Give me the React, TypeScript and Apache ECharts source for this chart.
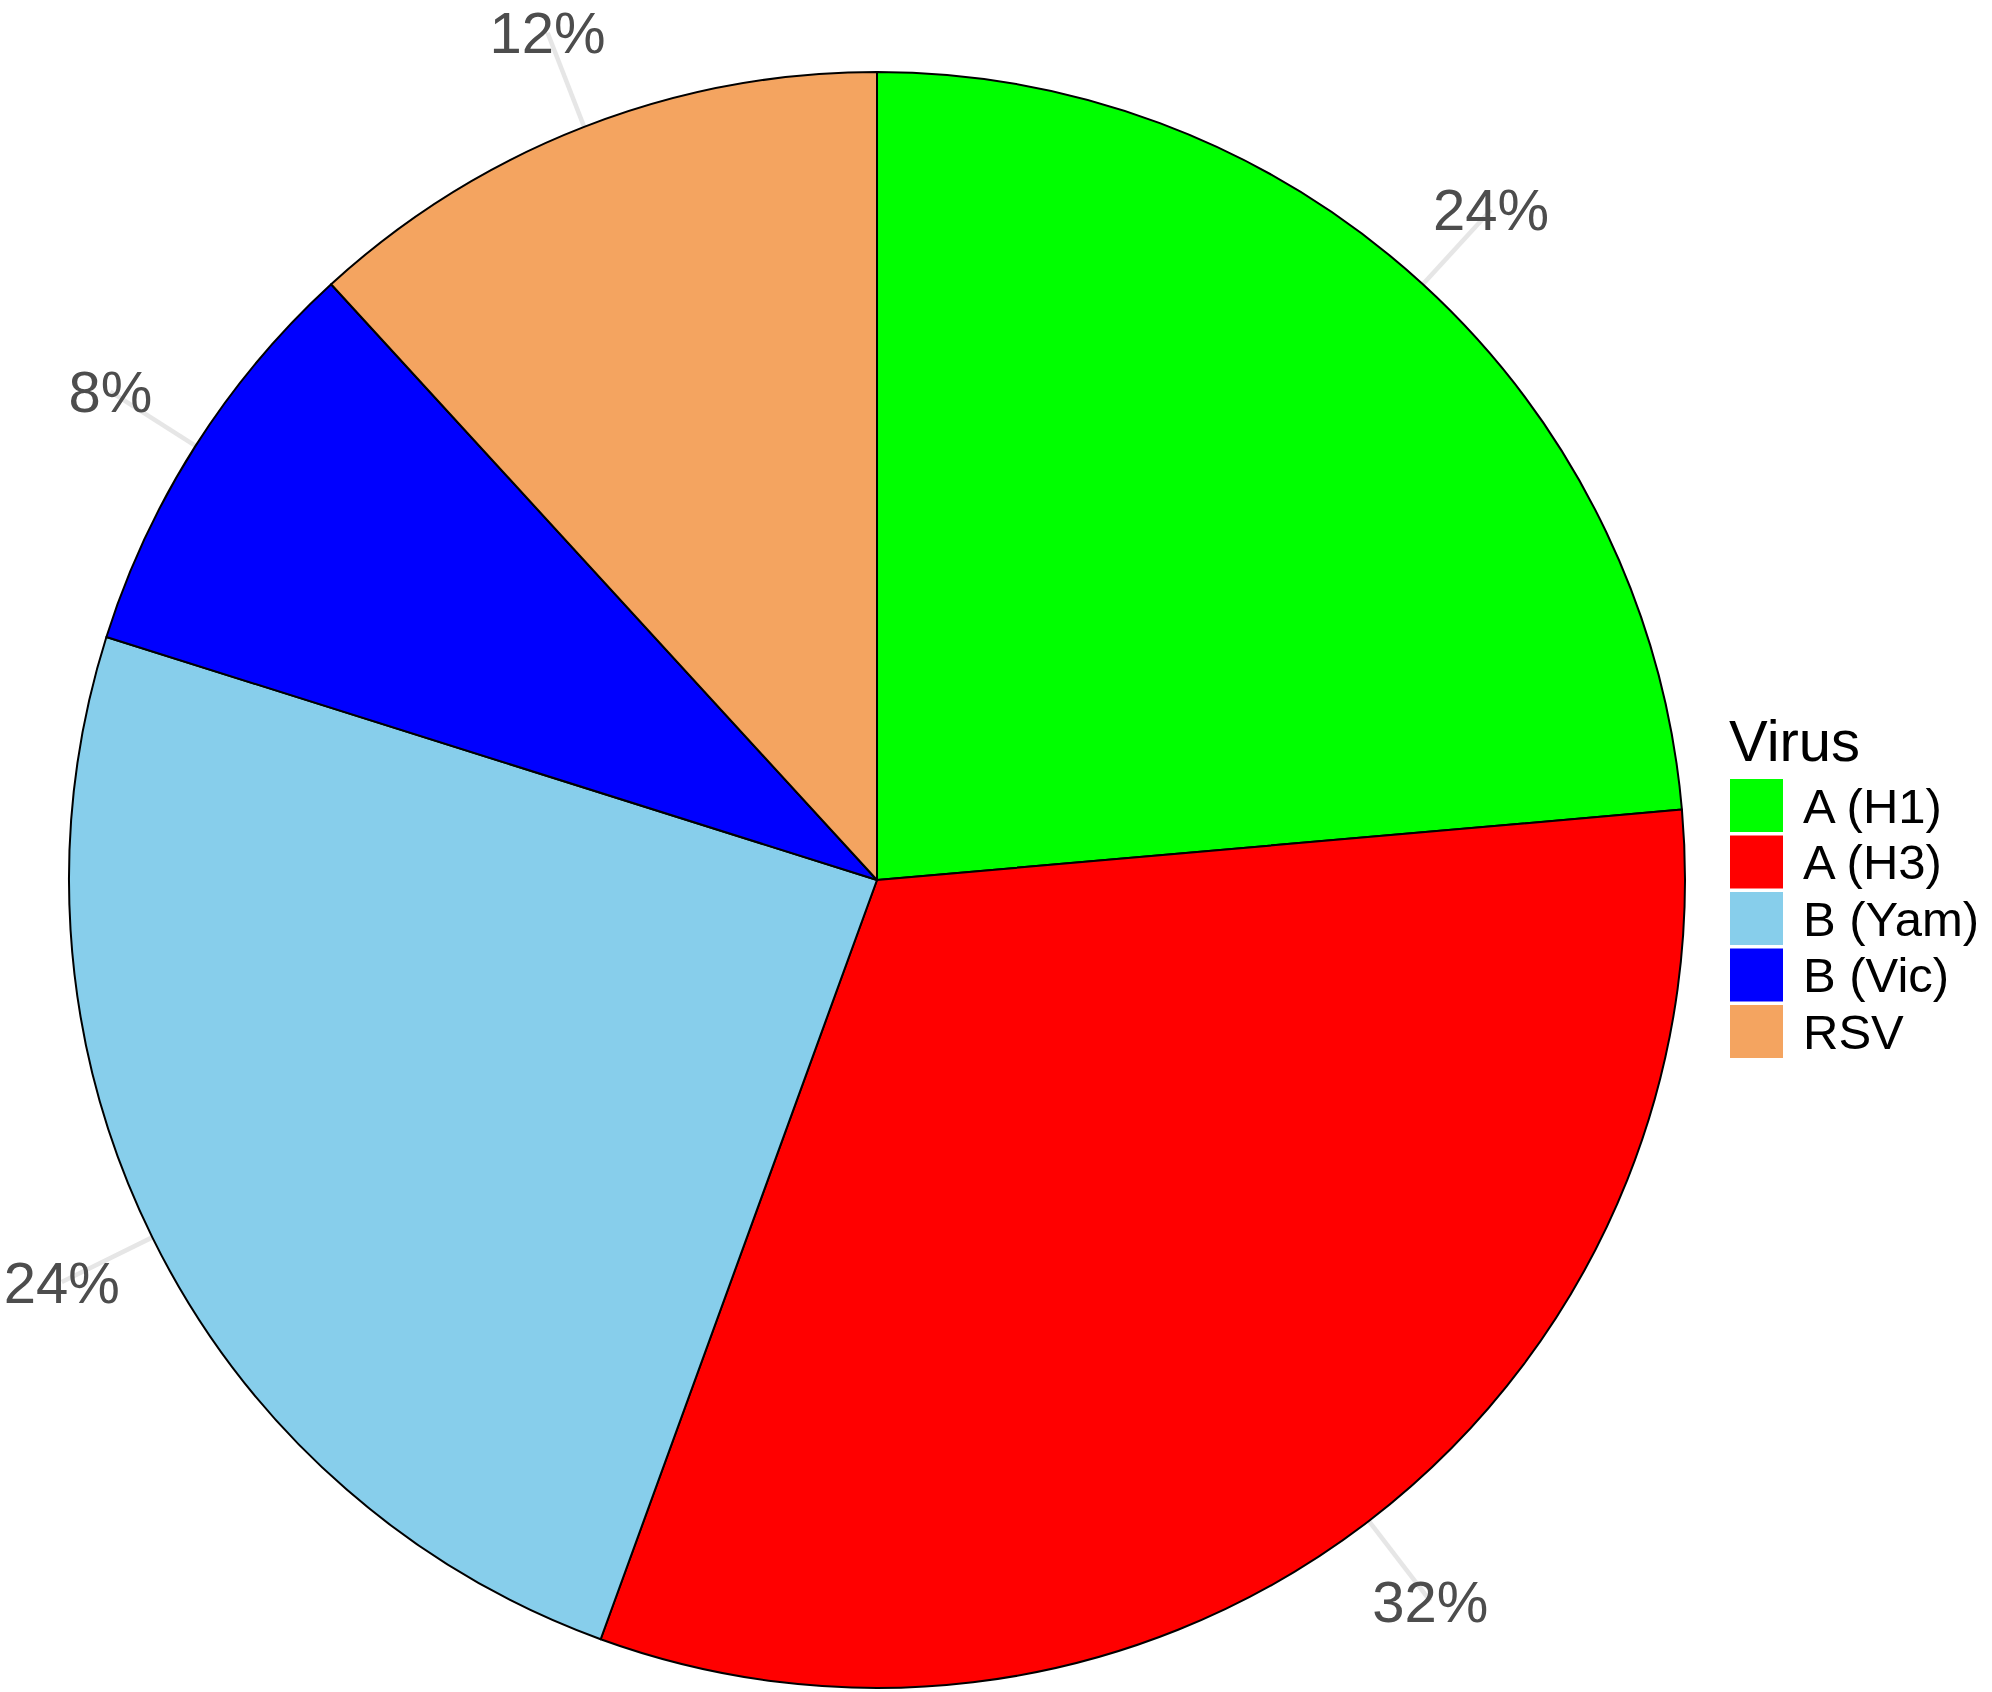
import React, { useEffect, useRef } from "react";
import * as echarts from "echarts";

const categories = ["A (H1)", "A (H3)", "B (Yam)", "B (Vic)", "RSV"];
const counts = [34, 46, 35, 12, 17];
const colors = ["#00FF00", "#FF0000", "#87CEEB", "#0000FF", "#F4A460"];
const legendTitle = "Virus";

const FONT = "'Liberation Sans', Arial, Helvetica, sans-serif";
const CX = 877;
const CY = 880;
const R = 808;
const LABEL_OFFSET = 101;

export default function App() {
  const ref = useRef<HTMLDivElement>(null);
  useEffect(() => {
    if (!ref.current) return;
    const chart = echarts.init(ref.current, undefined, { renderer: "svg" });
    const total = counts.reduce((a, b) => a + b, 0);
    const data = categories.map((name, i) => ({
      name,
      value: counts[i],
      itemStyle: { color: colors[i] },
    }));
    chart.setOption({
      animation: false,
      backgroundColor: "#ffffff",
      title: {
        text: legendTitle,
        left: 1729,
        top: 711,
        padding: 0,
        textStyle: { fontSize: 58, fontWeight: "normal", color: "#000", fontFamily: FONT },
      },
      legend: {
        orient: "vertical",
        left: 1730,
        top: 779,
        padding: 0,
        itemWidth: 53,
        itemHeight: 53,
        itemGap: 3.5,
        icon: "rect",
        itemStyle: { borderWidth: 0 },
        data: categories,
        textStyle: {
          fontSize: 49,
          color: "#000",
          fontFamily: FONT,
          lineHeight: 53,
          padding: [0, 0, 0, 15],
        },
      },
      series: [
        {
          type: "pie",
          center: [CX, CY],
          radius: [0, R],
          startAngle: 90,
          clockwise: true,
          avoidLabelOverlap: false,
          data,
          itemStyle: { borderColor: "#000", borderWidth: 2 },
          emphasis: { disabled: true },
          label: {
            show: true,
            position: "outside",
            formatter: (p: any) => Math.round(p.percent) + "%",
            fontSize: 58,
            color: "#4d4d4d",
            fontFamily: FONT,
          },
          labelLine: {
            show: true,
            length: 20,
            length2: 0,
            smooth: false,
            lineStyle: { color: "#e6e6e6", width: 4.5 },
          },
          labelLayout: (p: any) => {
            const pts = p.labelLinePoints;
            let x0: number, y0: number, ux: number, uy: number;
            if (pts && pts.length >= 2) {
              x0 = pts[0][0];
              y0 = pts[0][1];
              const dx = pts[1][0] - x0;
              const dy = pts[1][1] - y0;
              const len = Math.hypot(dx, dy) || 1;
              ux = dx / len;
              uy = dy / len;
            } else {
              let cum = 0;
              for (let i = 0; i < p.dataIndex; i++) cum += counts[i];
              const mid = (cum + counts[p.dataIndex] / 2) / total;
              const a = mid * Math.PI * 2;
              ux = Math.sin(a);
              uy = -Math.cos(a);
              x0 = CX + R * ux;
              y0 = CY + R * uy;
            }
            const x = x0 + ux * LABEL_OFFSET;
            const y = y0 + uy * LABEL_OFFSET;
            return {
              x,
              y,
              align: "center",
              verticalAlign: "middle",
              labelLinePoints: [
                [x0, y0],
                [x, y],
              ],
            };
          },
        },
      ],
    });
    return () => chart.dispose();
  }, []);
  return (
    <div
      ref={ref}
      style={{ position: "absolute", left: 0, top: 0, width: 1992, height: 1692, background: "#fff" }}
    />
  );
}
